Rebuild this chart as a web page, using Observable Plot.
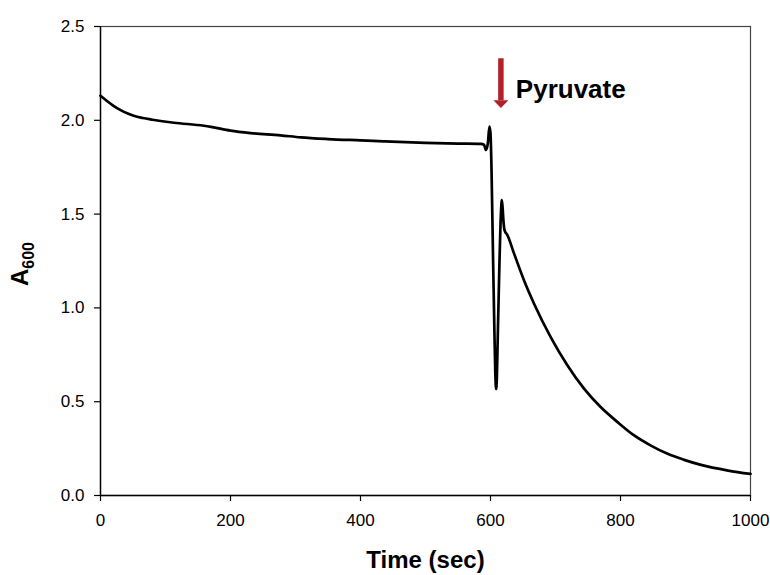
<!DOCTYPE html>
<html>
<head>
<meta charset="utf-8">
<script src="https://cdn.jsdelivr.net/npm/d3@7"></script>
<script src="https://cdn.jsdelivr.net/npm/@observablehq/plot@0.6"></script>
<style>
  html, body { margin: 0; padding: 0; background: #fff; }
  #chart svg { display: block; }
</style>
</head>
<body>
<div id="chart"></div>
<script>
// Time (sec)
const time = [0, 10, 20, 31, 42, 51, 65, 80, 113, 159, 170, 200, 231, 277, 308, 350, 400, 436, 500, 550, 585, 590,
  593, 596, 598.4, 600, 601.5, 604, 606, 607.5, 608.6, 609.8, 611, 613.5, 616, 617.4, 618.5, 620, 621.5, 623,
  625, 636.4, 651.8, 667.2, 692.8, 718.5, 744.2, 769.8, 795.5, 821, 846.8, 872.5, 898, 923.8, 965.6, 1000];
// Absorbance at 600 nm
const a600 = [2.131, 2.103, 2.077, 2.054, 2.036, 2.024, 2.012, 2.003, 1.987, 1.971, 1.965, 1.945, 1.932, 1.92, 1.909, 1.90, 1.893, 1.888, 1.88, 1.876, 1.874, 1.87,
  1.842, 1.88, 1.966, 1.93, 1.75, 1.25, 0.88, 0.64, 0.568, 0.63, 0.82, 1.2, 1.5, 1.575, 1.54, 1.46, 1.415, 1.403,
  1.394, 1.288, 1.145, 1.021, 0.843, 0.693, 0.568, 0.470, 0.391, 0.320, 0.266, 0.222, 0.190, 0.163, 0.133, 0.115];

const xTicks = [0, 200, 400, 600, 800, 1000];
const yTicks = [0, 0.5, 1.0, 1.5, 2.0, 2.5];

// Annotation
const annotation = [{x: 616, yTop: 2.328, yBottom: 2.104, yHead: 2.086, label: "Pyruvate", labelX: 639, labelY: 2.165}];

const data = time.map((t, i) => ({t, v: a600[i]}));

const headSymbol = {
  draw(context, size) {
    context.moveTo(-7.5, -3.8);
    context.lineTo(7.5, -3.8);
    context.lineTo(0, 3.8);
    context.closePath();
  }
};

const font = "'Liberation Sans', Arial, sans-serif";

const plot = Plot.plot({
  width: 770,
  height: 575,
  marginLeft: 100,
  marginRight: 20,
  marginTop: 26,
  marginBottom: 80,
  style: {fontFamily: font, background: "#fff", color: "#000"},
  x: {domain: [0, 1000]},
  y: {domain: [0, 2.5]},
  marks: [
    Plot.frame({stroke: "#444", strokeWidth: 1.2}),
    Plot.axisX({ticks: xTicks, tickSize: 6, tickPadding: 12, fontSize: 17, label: null, tickFormat: d3.format("d"), stroke: "#000", strokeWidth: 1.2}),
    Plot.axisY({ticks: yTicks, tickSize: 6, tickPadding: 10, fontSize: 17, label: null, tickFormat: d3.format(".1f"), stroke: "#000", strokeWidth: 1.2}),
    Plot.ruleX([0], {stroke: "#000", strokeWidth: 1.4}),
    Plot.ruleY([0], {stroke: "#000", strokeWidth: 1.4}),
    Plot.lineY(data, {x: "t", y: "v", stroke: "#000", strokeWidth: 2.7, curve: "monotone-x"}),
    Plot.ruleX(annotation, {x: "x", y1: "yTop", y2: "yBottom", stroke: "#b3202a", strokeWidth: 5.5}),
    Plot.dot(annotation, {x: "x", y: "yHead", symbol: headSymbol, fill: "#b3202a", stroke: "none", r: 5}),
    Plot.text(annotation, {x: "labelX", y: "labelY", text: "label", textAnchor: "start", lineAnchor: "middle", fontSize: 26, fontWeight: "bold", fill: "#000"}),
    Plot.text(["Time (sec)"], {frameAnchor: "bottom", dy: 65, text: d => d, fontSize: 24, fontWeight: "bold", fill: "#000", lineAnchor: "middle"})
  ]
});

const svg = d3.select(plot);
const yl = svg.append("text")
  .attr("transform", "translate(28,264) rotate(-90)")
  .attr("text-anchor", "middle")
  .attr("font-family", font)
  .attr("font-weight", "bold")
  .attr("font-size", 24)
  .attr("fill", "#000");
yl.append("tspan").text("A");
yl.append("tspan").attr("font-size", 16).attr("dy", 6).text("600");

document.getElementById("chart").appendChild(plot);
</script>
</body>
</html>
